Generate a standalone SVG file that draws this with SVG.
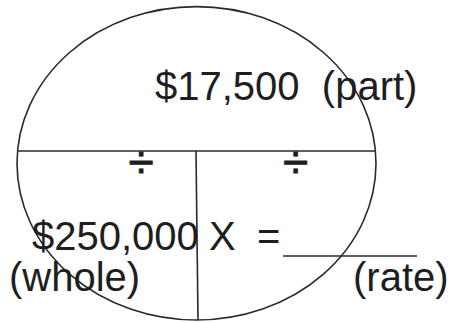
<svg xmlns="http://www.w3.org/2000/svg" width="451" height="323" viewBox="0 0 451 323">
<style>
.ln{fill:none;stroke:#2a2a2a;stroke-width:1.6}
.t{font-family:"Liberation Sans",Arial,sans-serif;font-size:40px;fill:#1e1e1e;white-space:pre}
.d{font-family:"Liberation Sans",Arial,sans-serif;font-size:46px;fill:#1e1e1e;text-anchor:middle;stroke:#1e1e1e;stroke-width:0.8}
</style>
<rect width="451" height="323" fill="#ffffff"/>
<g id="connectors">
<ellipse class="ln" cx="196.5" cy="163.3" rx="179.5" ry="156.7"/>
<line class="ln" x1="17" y1="151" x2="376" y2="151" stroke-width="2.2"/>
<line class="ln" x1="196" y1="151" x2="198" y2="320"/>
<line class="ln" x1="283" y1="256" x2="417" y2="256" stroke-width="2.2"/>
</g>
<g id="part"><text class="t" x="155" y="100" xml:space="preserve">$17,500  (part)</text></g>
<g id="div1"><text class="d" x="141" y="178">÷</text></g>
<g id="div2"><text class="d" x="295.5" y="178">÷</text></g>
<g id="whole"><text class="t" x="32" y="250">$250,000</text><text class="t" x="9" y="291">(whole)</text></g>
<g id="times"><text class="t" x="209" y="250">X</text><text class="t" x="257" y="250">=</text></g>
<g id="rate"><text class="t" x="353" y="291">(rate)</text></g>
</svg>
